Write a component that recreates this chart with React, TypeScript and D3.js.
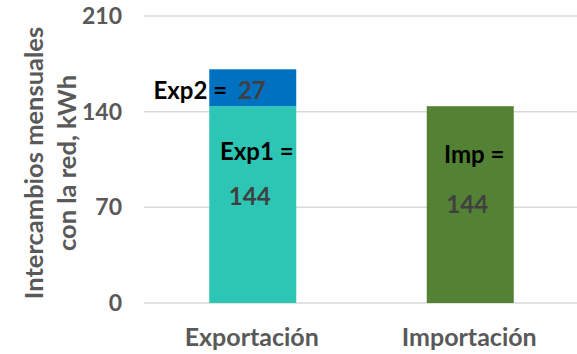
import React from "react";
import * as d3 from "d3";

const categories = ["Exportación", "Importación"];
const baseValues = [144, 144];
const topValues = [27, 0];
const baseNames = ["Exp1", "Imp"];
const topNames = ["Exp2", ""];
const yTicks = [0, 70, 140, 210];
const axisTitle = ["Intercambios mensuales", "con la red, kWh"];

const W = 577;
const H = 354;
const FONT = "Lato, 'Open Sans', sans-serif";
const baseColors = ["#2DC6B4", "#548235"];
const topColor = "#0070C0";

export default function App() {
  const x = d3.scaleBand<string>().domain(categories).range([144, 579]).paddingInner(0.6).paddingOuter(0.3);
  const y = d3.scaleLinear().domain([0, 210]).range([303, 16]);
  const bw = x.bandwidth();

  return (
    <svg width={W} height={H} style={{ position: "absolute", left: 0, top: 0, background: "#fff" }} fontFamily={FONT}>
      {yTicks.map((t) => (
        <g key={t}>
          <line x1={144} x2={577} y1={y(t)} y2={y(t)} stroke="#D9D9D9" strokeWidth={1.5} />
          <text x={122} y={y(t) + 8} textAnchor="end" fontSize={23} fontWeight={700} fill="#595959">
            {t}
          </text>
        </g>
      ))}

      {categories.map((c, i) => {
        const x0 = x(c)!;
        const cx = x0 + bw / 2;
        const yBase = y(baseValues[i]);
        const yTop = y(baseValues[i] + topValues[i]);
        return (
          <g key={c}>
            <rect x={x0} y={yBase} width={bw} height={y(0) - yBase} fill={baseColors[i]} />
            {topValues[i] > 0 && (
              <rect x={x0} y={yTop} width={bw} height={yBase - yTop} fill={topColor} />
            )}
            <text x={cx + 4} y={yBase + (i === 0 ? 54 : 57)} textAnchor="middle" fontSize={24} fontWeight={700} fill="#000">
              {baseNames[i]} =
            </text>
            <text x={cx - 3} y={yBase + (i === 0 ? 99 : 107)} textAnchor="middle" fontSize={24} fontWeight={700} fill="#404040">
              {baseValues[i]}
            </text>
            {topValues[i] > 0 && (
              <text x={cx + 13} y={yTop + 30} textAnchor="end" fontSize={24} fontWeight={700}>
                <tspan fill="#000">{topNames[i]} = </tspan>
                <tspan fill="#404040" dx={5}>{topValues[i]}</tspan>
              </text>
            )}
            <text x={cx - 1} y={346} textAnchor="middle" fontSize={25} fontWeight={700} fill="#595959">
              {c}
            </text>
          </g>
        );
      })}

      <g transform="translate(0,163) rotate(-90)">
        <text x={0} y={43} textAnchor="middle" fontSize={25.5} fontWeight={700} fill="#595959">
          {axisTitle[0]}
        </text>
        <text x={0} y={76} textAnchor="middle" fontSize={25.5} fontWeight={700} fill="#595959">
          {axisTitle[1]}
        </text>
      </g>
    </svg>
  );
}
